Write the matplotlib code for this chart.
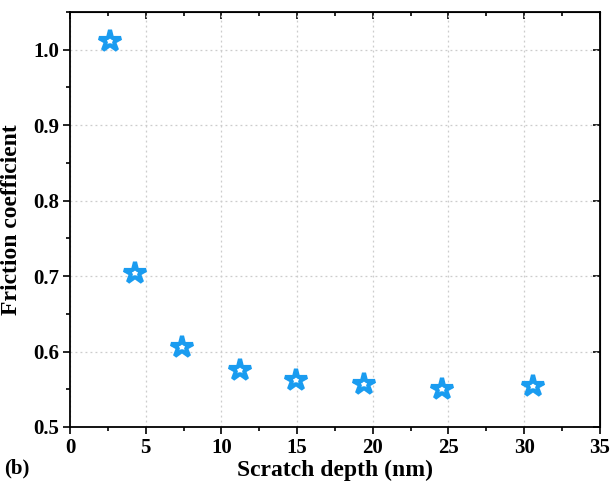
import matplotlib
matplotlib.use("Agg")
import matplotlib.pyplot as plt
from matplotlib.ticker import MultipleLocator

# scratch depth (nm) vs friction coefficient
depth = [2.65, 4.3, 7.4, 11.2, 14.95, 19.4, 24.6, 30.6]
friction = [1.011, 0.704, 0.606, 0.576, 0.562, 0.557, 0.551, 0.554]
yticks = [0.5, 0.6, 0.7, 0.8, 0.9, 1.0]

plt.rcParams["font.family"] = ["Liberation Serif", "DejaVu Serif"]
plt.rcParams["font.weight"] = "bold"

fig = plt.figure(figsize=(6.14, 4.88), dpi=100)
ax = fig.add_axes([0.114, 0.125, 0.863, 0.8504])

ax.plot(depth, friction, linestyle="none", marker="*", markersize=16,
        markerfacecolor="white", markeredgecolor="#1a9cf0", markeredgewidth=3)

ax.set_xlim(0, 35)
ax.set_ylim(0.5, 1.05)
ax.xaxis.set_major_locator(MultipleLocator(5))
ax.xaxis.set_minor_locator(MultipleLocator(2.5))
ax.yaxis.set_minor_locator(MultipleLocator(0.05))
ax.set_yticks(yticks)
ax.set_yticklabels([f"{v:.1f}" for v in yticks])

ax.grid(True, which="major", linestyle=(0, (1.5, 2.5)), color="#cccccc", linewidth=0.9)
ax.tick_params(which="both", direction="out", labelsize=15, width=1.2, pad=3)
ax.tick_params(which="major", length=5)
ax.tick_params(which="minor", length=3)

# top / right spines carry inward ticks, no labels
top = ax.secondary_xaxis("top")
top.xaxis.set_major_locator(MultipleLocator(5))
top.xaxis.set_minor_locator(MultipleLocator(2.5))
top.tick_params(which="both", direction="in", labeltop=False, width=1.2)
top.tick_params(which="major", length=5)
top.tick_params(which="minor", length=3)
right = ax.secondary_yaxis("right")
right.set_yticks(yticks)
right.tick_params(which="both", direction="in", labelright=False, width=1.2)
right.tick_params(which="major", length=5)
right.tick_params(which="minor", length=0)
for s in ax.spines.values():
    s.set_linewidth(1.3)

ax.set_xlabel("Scratch depth (nm)", fontsize=17, fontweight="bold", labelpad=1)
ax.set_ylabel("Friction coefficient", fontsize=17, fontweight="bold", labelpad=8)
fig.text(0.006, 0.03, "(b)", fontsize=15, fontweight="bold")

fig.savefig("out.png", dpi=100)
